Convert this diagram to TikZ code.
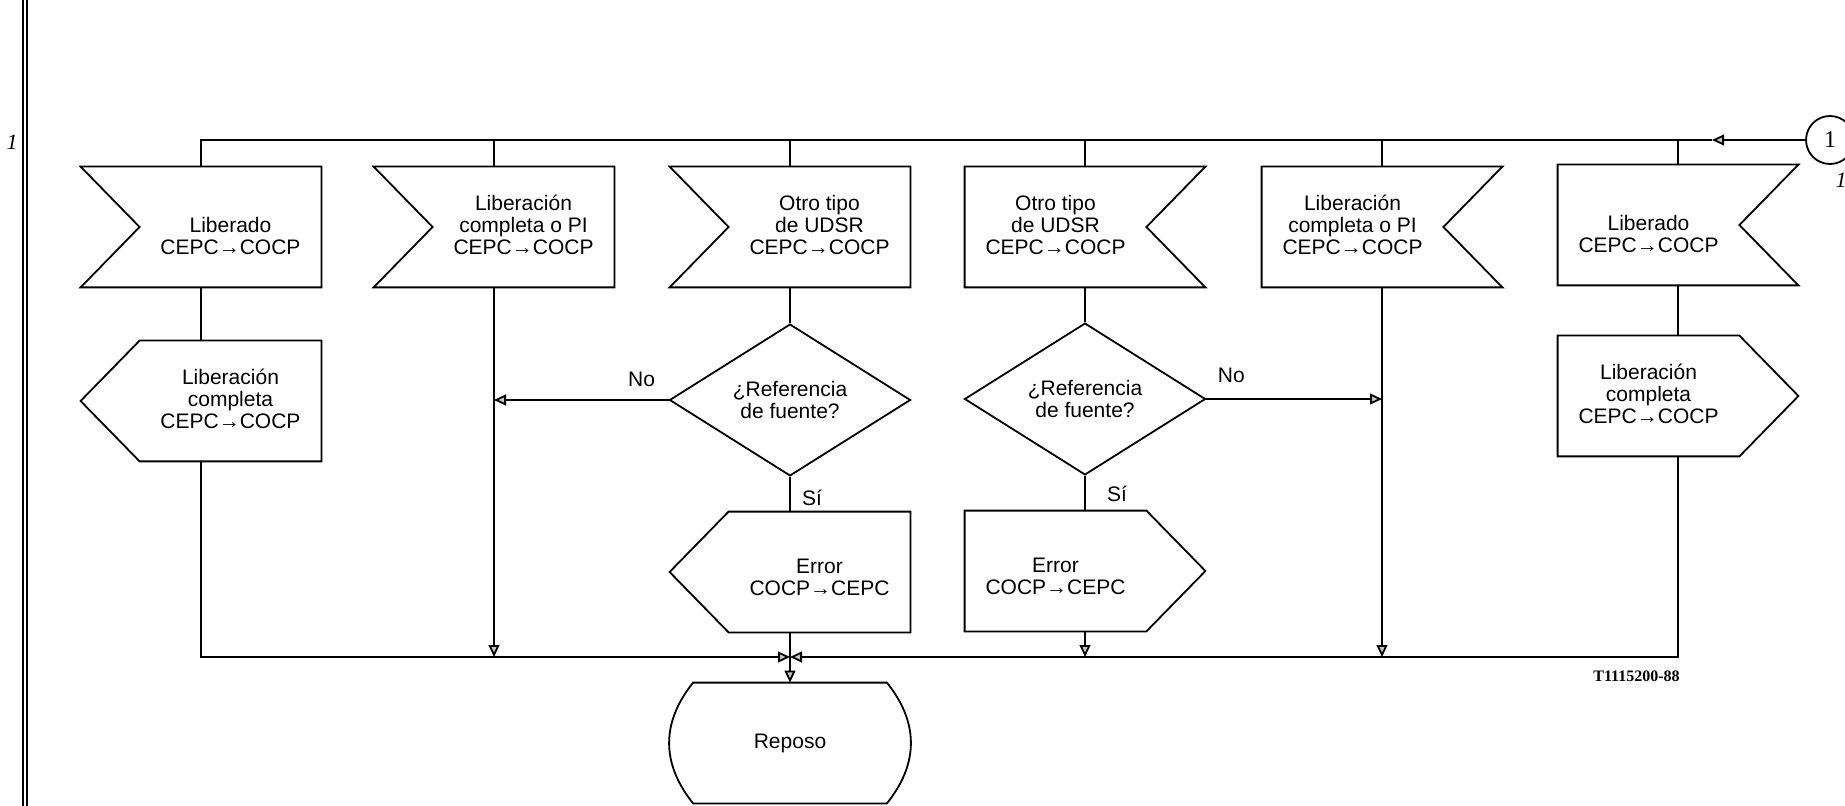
\documentclass[tikz,border=0pt]{standalone}
\usepackage{fontspec}
\setmainfont{Liberation Sans}
\newfontfamily\serif{Liberation Serif}
\usetikzlibrary{calc,arrows.meta,shapes.geometric}

% outlines of the SDL symbols, drawn around a plain rectangular node
\newcommand\InLeft[1]{\draw[outline] (#1.north west) -- (#1.north east) -- (#1.south east) -- (#1.south west) -- ($(#1.west)+(59,0)$) -- cycle;}
\newcommand\InRight[1]{\draw[outline] (#1.north west) -- (#1.north east) -- ($(#1.east)-(59,0)$) -- (#1.south east) -- (#1.south west) -- cycle;}
\newcommand\OutLeft[1]{\draw[outline] ($(#1.north west)+(59,0)$) -- (#1.north east) -- (#1.south east) -- ($(#1.south west)+(59,0)$) -- (#1.west) -- cycle;}
\newcommand\OutRight[1]{\draw[outline] (#1.north west) -- ($(#1.north east)-(59,0)$) -- (#1.east) -- ($(#1.south east)-(59,0)$) -- (#1.south west) -- cycle;}

\begin{document}
\begin{tikzpicture}[x=0.5pt,y=-0.5pt,
  outline/.style={line width=0.9pt, line join=miter},
  wire/.style={line width=0.9pt},
  arr/.style={wire, -{Triangle[length=6pt,width=5.4pt,fill=gray!45]}},
  box/.style={minimum width=120pt, minimum height=60pt, inner sep=0pt, draw=none},
  lbl/.style={font=\fontsize{10.5}{11}\selectfont, align=center, inner sep=0pt},
  dec/.style={diamond, draw, line width=0.9pt, minimum width=120.5pt, minimum height=68.5pt,
    inner sep=0pt, font=\fontsize{10.5}{11}\selectfont, align=center},
  tag/.style={font=\fontsize{10.5}{11}\selectfont, inner sep=0pt}
]
\useasboundingbox (0,0) rectangle (1845,806);

% margin rule and page marks
\draw[line width=0.8pt] (23,0) -- (23,806);
\draw[line width=0.8pt] (27,0) -- (27,806);
\node[font=\serif\itshape\fontsize{11}{12}\selectfont] (mk1) at (12,142) {1};
\node[font=\serif\itshape\fontsize{11}{12}\selectfont] (mk2) at (1841,180) {1};

% connector
\node[circle, draw, line width=0.9pt, minimum size=24pt, inner sep=0pt,
  font=\serif\fontsize{12}{13}\selectfont] (con) at (1830,140) {1};
\coordinate (amid) at (1712,140);
\coordinate (top1) at (201,140);

% input signals
\node[box] (in1) at (201,227) {};
\node[box] (in2) at (494,227) {};
\node[box] (in3) at (790,227) {};
\node[box] (in4) at (1085,227) {};
\node[box] (in5) at (1382,227) {};
\node[box] (in6) at (1678,225) {};
\InLeft{in1} \InLeft{in2} \InLeft{in3}
\InRight{in4} \InRight{in5} \InRight{in6}
\node[lbl] (t1) at ($(in1.center)+(29.5,9)$) {Liberado\\CEPC→COCP};
\node[lbl] (t2) at ($(in2.center)+(29.5,-2)$) {Liberación\\completa o PI\\CEPC→COCP};
\node[lbl] (t3) at ($(in3.center)+(29.5,-2)$) {Otro tipo\\de UDSR\\CEPC→COCP};
\node[lbl] (t4) at ($(in4.center)+(-29.5,-2)$) {Otro tipo\\de UDSR\\CEPC→COCP};
\node[lbl] (t5) at ($(in5.center)+(-29.5,-2)$) {Liberación\\completa o PI\\CEPC→COCP};
\node[lbl] (t6) at ($(in6.center)+(-29.5,9)$) {Liberado\\CEPC→COCP};

% output signals
\node[box] (o1) at (201,401) {};
\node[box] (o6) at (1678,396) {};
\OutLeft{o1} \OutRight{o6}
\node[lbl] (to1) at ($(o1.center)+(29.5,-2)$) {Liberación\\completa\\CEPC→COCP};
\node[lbl] (to6) at ($(o6.center)+(-29.5,-2)$) {Liberación\\completa\\CEPC→COCP};

% decisions
\node[dec] (d3) at (790,400) {¿Referencia\\de fuente?};
\node[dec] (d4) at (1085,399) {¿Referencia\\de fuente?};

% error outputs
\node[box] (e3) at (790,572) {};
\node[box] (e4) at (1085,571) {};
\OutLeft{e3} \OutRight{e4}
\node[lbl] (te3) at ($(e3.center)+(29.5,5)$) {Error\\COCP→CEPC};
\node[lbl] (te4) at ($(e4.center)+(-29.5,5)$) {Error\\COCP→CEPC};

% next state
\node[minimum width=96.5pt, minimum height=60pt, inner sep=0pt,
  font=\fontsize{10.5}{11}\selectfont] (rep) at (790,743) {Reposo};
\draw[outline] (rep.north west) -- (rep.north east)
  .. controls +(32,40) and +(32,-40) .. (rep.south east) -- (rep.south west)
  .. controls +(-32,-40) and +(-32,40) .. (rep.north west) -- cycle;

\coordinate (j3) at (790,657);

% top distribution line
\draw[arr] (con.west) -- (amid);
\draw[wire] (amid) -- (top1) -- (in1.north);
\foreach \n in {in2,in3,in4,in5,in6}
  \draw[wire] (\n.north |- top1) -- (\n.north);

% column connectors
\draw[wire] (in1.south) -- (o1.north);
\draw[arr] (o1.south) |- (j3);
\draw[arr] (in2.south) -- (in2.south |- j3);
\draw[wire] (in3.south) -- (d3.north);
\draw[wire] (d3.south) -- (e3.north);
\draw[arr] (d3.west) -- (d3.west -| in2.south);
\draw[wire] (e3.south) -- (j3);
\draw[arr] (j3) -- (rep.north);
\draw[wire] (in4.south) -- (d4.north);
\draw[wire] (d4.south) -- (e4.north);
\draw[arr] (d4.east) -- (d4.east -| in5.south);
\draw[arr] (e4.south) -- (e4.south |- j3);
\draw[arr] (in5.south) -- (in5.south |- j3);
\draw[wire] (in6.south) -- (o6.north);
\draw[arr] (o6.south) |- (j3);

% branch labels
\node[tag] (no3) at ($(d3.west)+(-27,-21)$) {No};
\node[tag] (si3) at ($(d3.south)+(22,21)$) {Sí};
\node[tag] (no4) at ($(d4.east)+(25,-24)$) {No};
\node[tag] (si4) at ($(d4.south)+(32,18)$) {Sí};

% drawing reference
\node[anchor=east, inner sep=0pt, font=\serif\bfseries\fontsize{8}{9}\selectfont] (ref) at (1680,676) {T1115200-88};
\end{tikzpicture}
\end{document}
